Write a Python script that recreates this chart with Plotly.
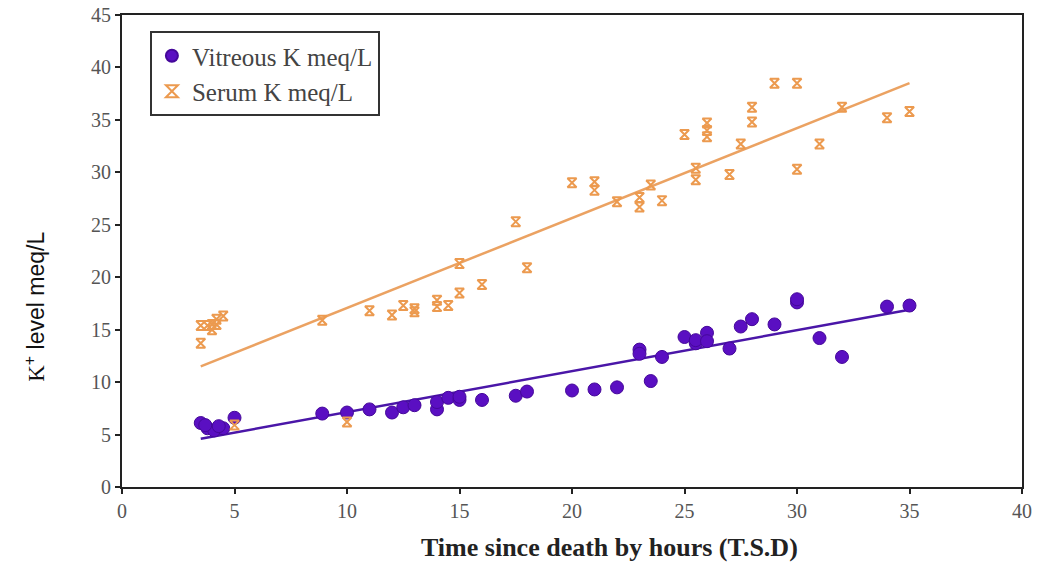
import plotly.graph_objects as go

# Vitreous K (hours, meq/L)
vit_x = [3.5, 3.8, 4.1, 4.5, 4.3, 3.7, 5.0, 8.9, 10.0, 11.0, 12.0, 12.5, 13.0, 14.0, 14.0,
         14.5, 15.0, 15.0, 16.0, 17.5, 18.0, 20.0, 21.0, 22.0, 23.0, 23.0, 23.5, 24.0, 25.0,
         25.5, 25.5, 26.0, 26.0, 27.0, 27.5, 28.0, 29.0, 30.0, 30.0, 31.0, 32.0, 34.0, 35.0]
vit_y = [6.1, 5.6, 5.4, 5.6, 5.8, 5.9, 6.6, 7.0, 7.1, 7.4, 7.1, 7.6, 7.8, 7.4, 8.1,
         8.5, 8.3, 8.6, 8.3, 8.7, 9.1, 9.2, 9.3, 9.5, 13.1, 12.7, 10.1, 12.4, 14.3,
         13.7, 14.0, 14.7, 13.9, 13.2, 15.3, 16.0, 15.5, 17.6, 17.9, 14.2, 12.4, 17.2, 17.3]

# Serum K (hours, meq/L)
ser_x = [3.5, 3.5, 3.8, 4.0, 4.0, 4.2, 4.2, 4.5, 5.0, 8.9, 10.0, 11.0, 12.0, 12.5, 13.0, 13.0,
         14.0, 14.0, 14.5, 15.0, 15.0, 16.0, 17.5, 18.0, 20.0, 21.0, 21.0, 22.0, 23.0, 23.0,
         23.5, 24.0, 25.0, 25.5, 25.5, 26.0, 26.0, 26.0, 27.0, 27.5, 28.0, 28.0, 29.0, 30.0,
         30.0, 31.0, 32.0, 34.0, 35.0]
ser_y = [13.7, 15.4, 15.4, 15.0, 15.5, 16.0, 15.5, 16.3, 5.9, 15.9, 6.2, 16.8, 16.4, 17.3, 16.7, 17.0,
         17.8, 17.2, 17.3, 18.5, 21.3, 19.3, 25.3, 20.9, 29.0, 29.1, 28.3, 27.2, 27.6, 26.7,
         28.8, 27.3, 33.6, 30.4, 29.3, 34.7, 34.0, 33.4, 29.8, 32.7, 36.2, 34.8, 38.5, 38.5,
         30.3, 32.7, 36.2, 35.2, 35.8]

# Trend lines (endpoints)
trend_x = [3.5, 35.0]
vit_trend = [4.6, 16.9]
ser_trend = [11.5, 38.5]

x_ticks = [0, 5, 10, 15, 20, 25, 30, 35, 40]
y_ticks = [0, 5, 10, 15, 20, 25, 30, 35, 40, 45]

VIT = "#5a0fc2"
SER = "#ec9a4f"

fig = go.Figure()
fig.add_trace(go.Scatter(x=trend_x, y=ser_trend, mode="lines",
                         line=dict(color="#eba262", width=2.5), showlegend=False, hoverinfo="skip"))
fig.add_trace(go.Scatter(x=trend_x, y=vit_trend, mode="lines",
                         line=dict(color="#4a16a8", width=2.5), showlegend=False, hoverinfo="skip"))
fig.add_trace(go.Scatter(x=vit_x, y=vit_y, mode="markers", name="Vitreous K meq/L",
                         marker=dict(symbol="circle", size=13, color=VIT,
                                     line=dict(color="#45089a", width=1))))
fig.add_trace(go.Scatter(x=ser_x, y=ser_y, mode="markers", name="Serum K meq/L",
                         marker=dict(symbol="hourglass-open", size=9, color=SER,
                                     line=dict(color=SER, width=2))))

tickfont = dict(family="Liberation Serif", size=20, color="#555555")
fig.update_layout(
    width=1042, height=565,
    margin=dict(l=122, r=20, t=15, b=78, autoexpand=False),
    paper_bgcolor="white", plot_bgcolor="white",
    legend=dict(x=0.031, y=0.966, xanchor="left", yanchor="top",
                bordercolor="#333333", borderwidth=2, bgcolor="white",
                font=dict(family="Liberation Serif", size=25, color="#444444"),
                tracegroupgap=4, itemsizing="constant"),
    xaxis=dict(range=[0, 40], tickvals=x_ticks, showgrid=False, zeroline=False,
               showline=True, linecolor="#222222", linewidth=2, mirror=True,
               ticks="outside", ticklen=5, tickcolor="#222222", tickwidth=2,
               tickfont=tickfont, automargin=False),
    yaxis=dict(range=[0, 45], tickvals=y_ticks, showgrid=False, zeroline=False,
               showline=True, linecolor="#222222", linewidth=2, mirror=True,
               ticks="outside", ticklen=5, tickcolor="#222222", tickwidth=2,
               tickfont=tickfont, automargin=False),
    annotations=[
        dict(text="<span style='font-family:Liberation Serif'>K</span><sup>+</sup> level meq/L",
             xref="paper", yref="paper", x=-0.097, y=0.381, xanchor="center", yanchor="middle",
             textangle=-90, showarrow=False,
             font=dict(family="Liberation Sans", size=23, color="#111111")),
        dict(text="<b>Time since death by hours (T.S.D)</b>",
             xref="paper", yref="paper", x=0.542, y=-0.129, xanchor="center", yanchor="middle",
             showarrow=False,
             font=dict(family="Liberation Serif", size=26, color="#222222")),
    ],
)

fig.write_html("out.html", config={"displayModeBar": False},
               post_script="document.body.style.margin='0';")
